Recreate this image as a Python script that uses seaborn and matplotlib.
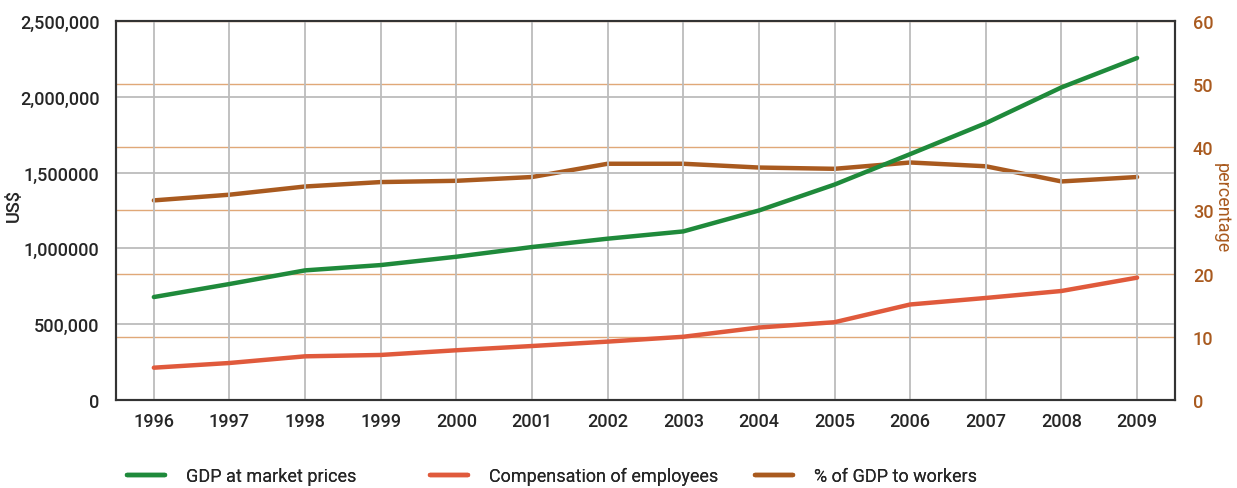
import numpy as np
import pandas as pd
import matplotlib.pyplot as plt
import seaborn as sns
from matplotlib.ticker import FixedLocator, FixedFormatter

years = list(range(1996, 2010))
gdp = [679000, 765000, 855000, 890000, 945000, 1009000, 1064000, 1112000,
       1250000, 1421000, 1622000, 1826000, 2062000, 2256000]
compensation = [213000, 244000, 288000, 297000, 328000, 356000, 385000, 417000,
                478000, 513000, 630000, 673000, 719000, 807000]
pct_to_workers = [31.6, 32.5, 33.8, 34.5, 34.7, 35.3, 37.4, 37.4,
                  36.8, 36.6, 37.6, 37.0, 34.6, 35.3]

left_ticks = [0, 500000, 1000000, 1500000, 2000000, 2500000]
left_labels = ['0', '500,000', '1,000000', '1,500000', '2,000,000', '2,500,000']
right_ticks = [0, 10, 20, 30, 40, 50, 60]
series_names = ['GDP at market prices', 'Compensation of employees', '% of GDP to workers']

green = '#1f8a3b'
red = '#e05a3c'
brown = '#a95a1f'
orange_grid = '#e0a878'
grey_grid = '#bcbcbc'

sns.set_style('white')
plt.rcParams['font.family'] = ['Roboto', 'DejaVu Sans']
fs = 13

df = pd.DataFrame({'year': years, 'gdp': gdp, 'comp': compensation, 'pct': pct_to_workers})

fig = plt.figure(figsize=(12.37, 4.89), dpi=100)
ax = fig.add_axes([0.0938, 0.18, 0.856, 0.775])
ax2 = ax.twinx()

sns.lineplot(data=df, x='year', y='gdp', ax=ax, color=green, lw=3.2, label=series_names[0], legend=False)
sns.lineplot(data=df, x='year', y='comp', ax=ax, color=red, lw=3.2, label=series_names[1], legend=False)
sns.lineplot(data=df, x='year', y='pct', ax=ax2, color=brown, lw=3.2, label=series_names[2], legend=False)

ax.set_xlim(1995.5, 2009.5)
ax.set_ylim(0, 2500000)
ax2.set_ylim(0, 60)
ax.set_xticks(years)
ax.set_xticklabels([str(y) for y in years], fontsize=fs, fontweight='medium')
ax.yaxis.set_major_locator(FixedLocator(left_ticks))
ax.yaxis.set_major_formatter(FixedFormatter(left_labels))
ax.tick_params(axis='y', labelsize=fs, length=0, pad=12)
ax.tick_params(axis='x', length=0, pad=9)
ax2.set_yticks(right_ticks)
ax2.tick_params(axis='y', labelsize=fs, length=0, pad=13, labelcolor=brown)
for t in ax.get_yticklabels() + ax2.get_yticklabels():
    t.set_fontweight('medium')

ax.grid(True, axis='both', color=grey_grid, lw=1.3)
ax2.grid(True, axis='y', color=orange_grid, lw=1.0)
ax.set_axisbelow(True)
ax.set_zorder(ax2.get_zorder() + 1)
ax.patch.set_visible(False)

ax.set_xlabel('')
ax.set_ylabel('US$', fontsize=fs, fontweight='medium')
ax.yaxis.set_label_coords(-0.088, 0.517)
ax2.set_ylabel('percentage', fontsize=fs, color=brown, rotation=270, va='center')
ax2.yaxis.set_label_coords(1.044, 0.51)

for a in (ax, ax2):
    for s in a.spines.values():
        s.set_color('#333333')
        s.set_linewidth(1.5)

# one small legend per series, placed like the reference
handles = ax.get_lines()[:2] + ax2.get_lines()[:1]
legend_x = [0.1027, 0.3476, 0.6103]
for h, name, lx in zip(handles, series_names, legend_x):
    leg = fig.legend([h], [name], loc='center left', bbox_to_anchor=(lx, 0.0245),
                     frameon=False, fontsize=fs, handlelength=2.1, handletextpad=1.15,
                     borderpad=0, borderaxespad=0)
    fig.add_artist(leg)

fig.savefig('out.png', dpi=100)
